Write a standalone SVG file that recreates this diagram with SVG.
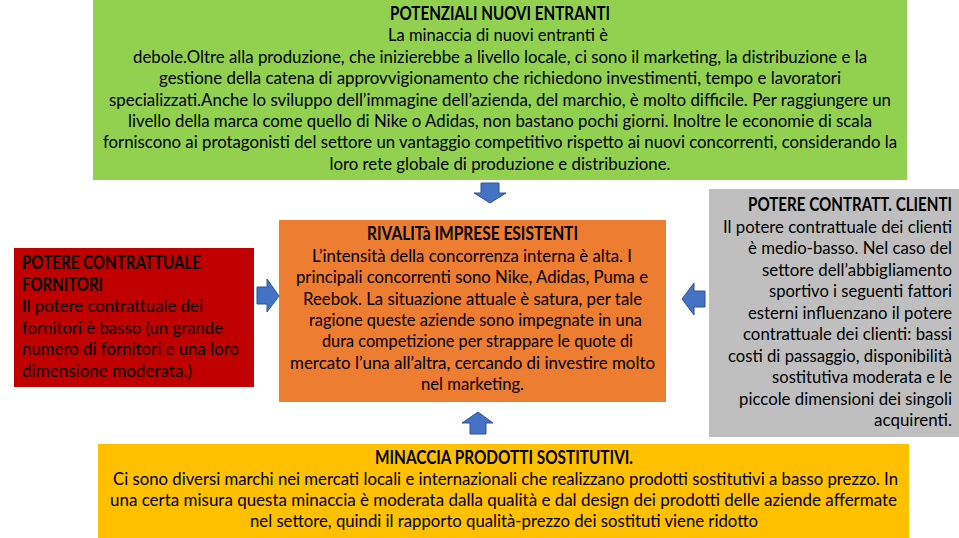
<svg xmlns="http://www.w3.org/2000/svg" width="959" height="538" viewBox="0 0 959 538">
<style>
.t{font-family:Lato,Carlito,"Liberation Sans",sans-serif;font-size:18px;fill:#000}
.b{font-weight:bold}
.c{text-anchor:middle}
.r{text-anchor:end}
.arrow{fill:#4472C4;stroke:#2F528F;stroke-width:1}
</style>
<rect width="959" height="538" fill="#ffffff"/>
<g id="connectors">
<path class="arrow" d="M481,183 H499 V193 H506 L490,203 L474,193 H481 Z"/>
<path class="arrow" d="M478,412 L493,423 H486 V434 H470 V423 H462 Z"/>
<path class="arrow" d="M257,287 H267 V279 L279,296 L267,312 V304 H257 Z"/>
<path class="arrow" d="M705,291 H694 V283 L682,299 L694,315 V307 H705 Z"/>
</g>
<g id="nuovi-entranti">
<rect x="93" y="0" width="814" height="180" fill="#92D050"/>
<text class="t b c" x="500" y="20" textLength="220" lengthAdjust="spacingAndGlyphs">POTENZIALI NUOVI ENTRANTI</text>
<text class="t c" x="498" y="41" textLength="220" lengthAdjust="spacingAndGlyphs">La minaccia di nuovi entranti è</text>
<text class="t c" x="500" y="63" textLength="734" lengthAdjust="spacingAndGlyphs">debole.Oltre alla produzione, che inizierebbe a livello locale, ci sono il marketing, la distribuzione e la</text>
<text class="t c" x="500" y="84" textLength="682" lengthAdjust="spacingAndGlyphs">gestione della catena di approvvigionamento che richiedono investimenti, tempo e lavoratori</text>
<text class="t c" x="500" y="105.5" textLength="782" lengthAdjust="spacingAndGlyphs">specializzati.Anche lo sviluppo dell’immagine dell’azienda, del marchio, è molto difficile. Per raggiungere un</text>
<text class="t c" x="500" y="127" textLength="744" lengthAdjust="spacingAndGlyphs">livello della marca come quello di Nike o Adidas, non bastano pochi giorni. Inoltre le economie di scala</text>
<text class="t c" x="500" y="148" textLength="794" lengthAdjust="spacingAndGlyphs">forniscono ai protagonisti del settore un vantaggio competitivo rispetto ai nuovi concorrenti, considerando la</text>
<text class="t c" x="500" y="169.5" textLength="341" lengthAdjust="spacingAndGlyphs">loro rete globale di produzione e distribuzione.</text>
</g>
<g id="rivalita">
<rect x="279" y="220" width="387" height="182" fill="#ED7D31"/>
<text class="t b c" x="472.5" y="239.5" textLength="211" lengthAdjust="spacingAndGlyphs">RIVALITà IMPRESE ESISTENTI</text>
<text class="t c" x="472" y="261.5" textLength="320" lengthAdjust="spacingAndGlyphs">L’intensità della concorrenza interna è alta. I</text>
<text class="t c" x="472" y="283" textLength="352" lengthAdjust="spacingAndGlyphs">principali concorrenti sono Nike, Adidas, Puma e</text>
<text class="t c" x="472.5" y="304.5" textLength="339" lengthAdjust="spacingAndGlyphs">Reebok. La situazione attuale è satura, per tale</text>
<text class="t c" x="475.5" y="326" textLength="333" lengthAdjust="spacingAndGlyphs">ragione queste aziende sono impegnate in una</text>
<text class="t c" x="477.5" y="347" textLength="311" lengthAdjust="spacingAndGlyphs">dura competizione per strappare le quote di</text>
<text class="t c" x="472.5" y="368.5" textLength="365" lengthAdjust="spacingAndGlyphs">mercato l’una all’altra, cercando di investire molto</text>
<text class="t c" x="472.5" y="390" textLength="103" lengthAdjust="spacingAndGlyphs">nel marketing.</text>
</g>
<g id="fornitori">
<rect x="14" y="248" width="240" height="139" fill="#C00000"/>
<text class="t b" x="22" y="269" textLength="179" lengthAdjust="spacingAndGlyphs">POTERE CONTRATTUALE</text>
<text class="t b" x="22" y="290.5" textLength="81" lengthAdjust="spacingAndGlyphs">FORNITORI</text>
<text class="t" x="22" y="312" textLength="181" lengthAdjust="spacingAndGlyphs">Il potere contrattuale dei</text>
<text class="t" x="22" y="333.5" textLength="201" lengthAdjust="spacingAndGlyphs">fornitori è basso (un grande</text>
<text class="t" x="22" y="355" textLength="217" lengthAdjust="spacingAndGlyphs">numero di fornitori e una loro</text>
<text class="t" x="22" y="376.5" textLength="170" lengthAdjust="spacingAndGlyphs">dimensione moderata.)</text>
</g>
<g id="clienti">
<rect x="709" y="189" width="250" height="248" fill="#BFBFBF"/>
<text class="t b r" x="952" y="211" textLength="204" lengthAdjust="spacingAndGlyphs">POTERE CONTRATT. CLIENTI</text>
<text class="t r" x="952" y="232.5" textLength="229" lengthAdjust="spacingAndGlyphs">Il potere contrattuale dei clienti</text>
<text class="t r" x="952" y="254" textLength="204" lengthAdjust="spacingAndGlyphs">è medio-basso. Nel caso del</text>
<text class="t r" x="952" y="275.5" textLength="190" lengthAdjust="spacingAndGlyphs">settore dell’abbigliamento</text>
<text class="t r" x="952" y="297" textLength="183" lengthAdjust="spacingAndGlyphs">sportivo i seguenti fattori</text>
<text class="t r" x="952" y="318.5" textLength="204" lengthAdjust="spacingAndGlyphs">esterni influenzano il potere</text>
<text class="t r" x="952" y="340" textLength="209" lengthAdjust="spacingAndGlyphs">contrattuale dei clienti: bassi</text>
<text class="t r" x="952" y="361.5" textLength="224" lengthAdjust="spacingAndGlyphs">costi di passaggio, disponibilità</text>
<text class="t r" x="952" y="383" textLength="180" lengthAdjust="spacingAndGlyphs">sostitutiva moderata e le</text>
<text class="t r" x="952" y="404.5" textLength="213" lengthAdjust="spacingAndGlyphs">piccole dimensioni dei singoli</text>
<text class="t r" x="952" y="426" textLength="78" lengthAdjust="spacingAndGlyphs">acquirenti.</text>
</g>
<g id="sostitutivi">
<rect x="98" y="444" width="811" height="94" fill="#FFC000"/>
<text class="t b c" x="504" y="464" textLength="258" lengthAdjust="spacingAndGlyphs">MINACCIA PRODOTTI SOSTITUTIVI.</text>
<text class="t c" x="505.5" y="485" textLength="785" lengthAdjust="spacingAndGlyphs">Ci sono diversi marchi nei mercati locali e internazionali che realizzano prodotti sostitutivi a basso prezzo. In</text>
<text class="t c" x="503.5" y="506" textLength="787" lengthAdjust="spacingAndGlyphs">una certa misura questa minaccia è moderata dalla qualità e dal design dei prodotti delle aziende affermate</text>
<text class="t c" x="504" y="527" textLength="508" lengthAdjust="spacingAndGlyphs">nel settore, quindi il rapporto qualità-prezzo dei sostituti viene ridotto</text>
</g>
</svg>
